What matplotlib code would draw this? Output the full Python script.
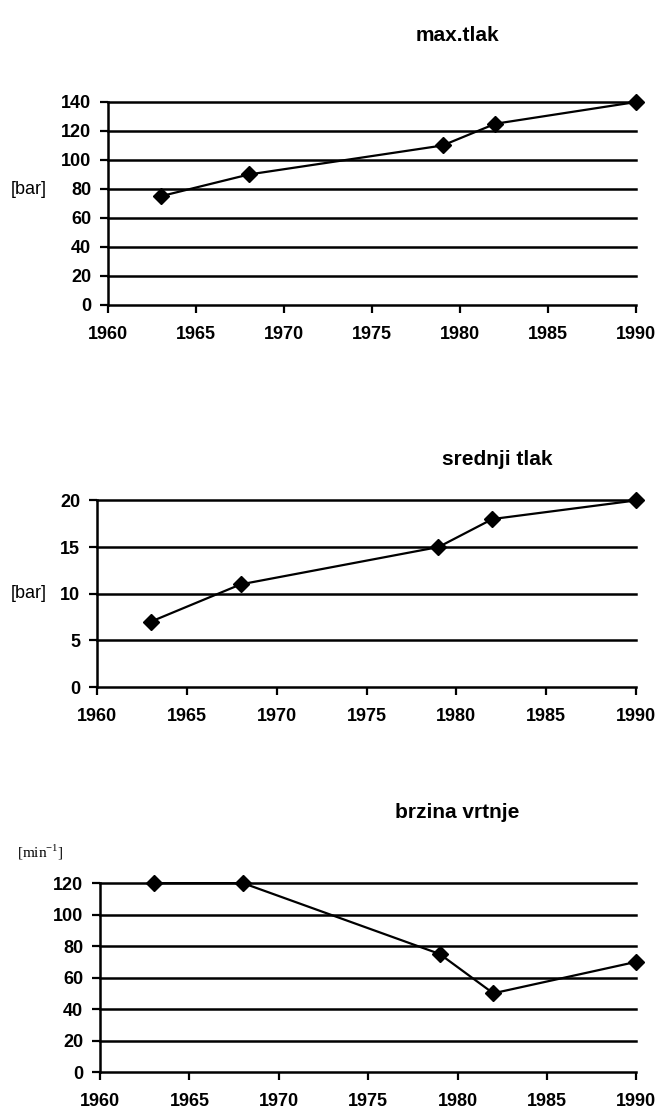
import matplotlib
matplotlib.use('Agg')
import matplotlib.pyplot as plt

years = [1963, 1968, 1979, 1982, 1990]
max_tlak = [75, 90, 110, 125, 140]
srednji_tlak = [7, 11, 15, 18, 20]
brzina_vrtnje = [120, 120, 75, 50, 70]

titles = ['max.tlak', 'srednji tlak', 'brzina vrtnje']
xticks = [1960, 1965, 1970, 1975, 1980, 1985, 1990]

plt.rcParams['font.family'] = ['Liberation Sans', 'DejaVu Sans']

fig = plt.figure(figsize=(6.58, 11.11), dpi=100)


def panel(rect, y, ymax, ystep, title, title_xy):
    ax = fig.add_axes(rect)
    ax.plot(years, y, color='black', lw=1.6, marker='D', ms=8, zorder=3, clip_on=False)
    ax.set_xlim(1960, 1990)
    ax.set_ylim(0, ymax)
    ax.set_xticks(xticks)
    ax.set_yticks(range(0, ymax + 1, ystep))
    for v in range(ystep, ymax + 1, ystep):
        ax.axhline(v, color='black', lw=1.8, zorder=1, clip_on=False)
    for s in ['top', 'right']:
        ax.spines[s].set_visible(False)
    ax.spines['left'].set_linewidth(1.8)
    ax.spines['bottom'].set_linewidth(1.8)
    ax.tick_params(direction='out', length=6, width=1.6, labelsize=13)
    ax.tick_params(axis='x', pad=9)
    ax.tick_params(axis='y', pad=6)
    for lab in ax.get_xticklabels() + ax.get_yticklabels():
        lab.set_fontweight('bold')
    fig.text(title_xy[0], title_xy[1], title, fontsize=15, fontweight='bold',
             ha='center', va='center')
    return ax


ax1 = panel([0.164, 0.7255, 0.803, 0.1827], max_tlak, 140, 20, titles[0], (0.695, 0.968))
fig.text(0.043, 1 - 190 / 1111, '[bar]', fontsize=13, ha='center', va='center')

ax2 = panel([0.147, 0.3816, 0.820, 0.168], srednji_tlak, 20, 5, titles[1], (0.755, 0.586))
fig.text(0.043, 1 - 593 / 1111, '[bar]', fontsize=13, ha='center', va='center')

ax3 = panel([0.152, 0.0351, 0.815, 0.170], brzina_vrtnje, 120, 20, titles[2], (0.695, 0.269))
fig.text(0.061, 1 - 852 / 1111, r'[min$^{\mathregular{-1}}$]', fontsize=11,
         family='Liberation Serif', ha='center', va='center')

fig.savefig('out.png', dpi=100)
